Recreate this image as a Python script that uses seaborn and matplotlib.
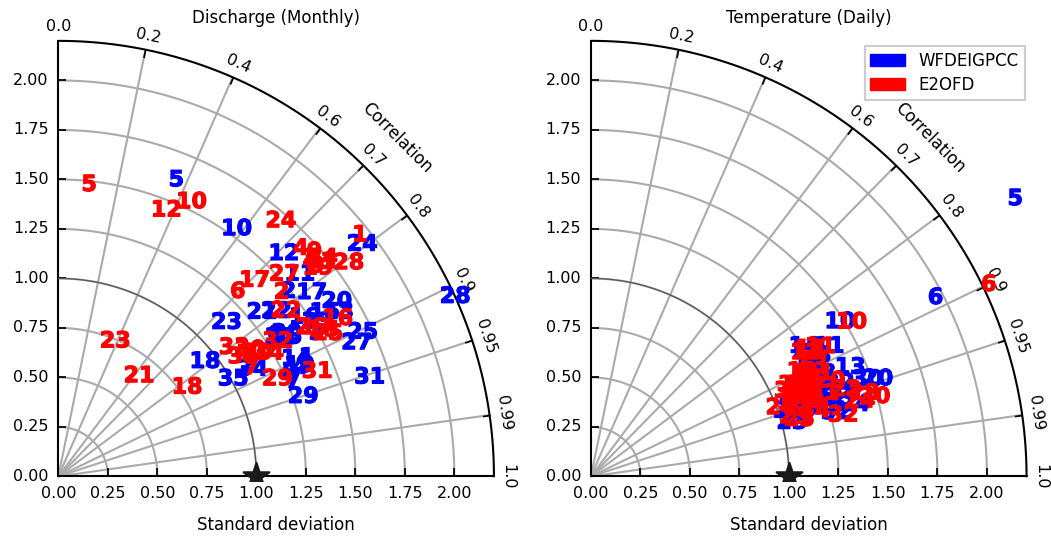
import numpy as np
import matplotlib
matplotlib.use('Agg')
import matplotlib.pyplot as plt
import matplotlib.patches as mpatches
import matplotlib.patheffects as pe
import seaborn as sns
from matplotlib.projections import PolarAxes
import mpl_toolkits.axisartist.floating_axes as fa
import mpl_toolkits.axisartist.grid_finder as gf

stations = list(range(1, 36))

# Discharge (Monthly)
dis_std_wfdei = [1.39, 1.49, 1.49, 1.34, 1.61, 1.31, 1.28, 1.28, 1.37, 1.54, 1.59, 1.60, 1.64, 1.34, 1.58,
                 1.48, 1.58, 0.94, 1.34, 1.66, 1.32, 1.38, 1.15, 1.93, 1.70, 1.35, 1.65, 2.20, 1.30, 1.36,
                 1.65, 1.32, 1.52, 1.12, 1.01]
dis_corr_wfdei = [0.902, 0.780, 0.875, 0.912, 0.370, 0.837, 0.927, 0.914, 0.910, 0.585, 0.767, 0.712, 0.863, 0.897, 0.852,
                  0.840, 0.810, 0.788, 0.909, 0.847, 0.779, 0.798, 0.738, 0.795, 0.904, 0.854, 0.913, 0.911, 0.951, 0.848,
                  0.953, 0.848, 0.859, 0.876, 0.874]
dis_std_e2o = [1.95, 1.46, 1.68, 1.68, 1.48, 1.30, 1.12, 1.68, 1.72, 1.54, 1.71, 1.45, 1.50, 1.73, 1.53,
               1.62, 1.40, 0.79, 1.68, 1.18, 0.65, 1.42, 0.74, 1.71, 1.54, 1.48, 1.53, 1.82, 1.21, 1.16,
               1.41, 1.30, 1.10, 1.23, 1.11]
dis_corr_e2o = [0.781, 0.772, 0.756, 0.729, 0.105, 0.697, 0.872, 0.775, 0.752, 0.437, 0.774, 0.376, 0.866, 0.771, 0.876,
                0.871, 0.708, 0.823, 0.780, 0.850, 0.627, 0.809, 0.388, 0.657, 0.884, 0.862, 0.746, 0.806, 0.914, 0.835,
                0.927, 0.852, 0.807, 0.863, 0.840]

# Temperature (Daily)
tmp_std_wfdei = [1.25, 1.22, 1.15, 1.27, 2.56, 1.96, 1.26, 1.24, 1.28, 1.48, 1.37, 1.24, 1.42, 1.26, 1.19,
                 1.08, 1.26, 1.27, 1.11, 1.53, 1.21, 1.34, 1.05, 1.38, 1.08, 1.05, 1.24, 1.34, 1.16, 1.48,
                 1.23, 1.28, 1.29, 1.26, 1.18]
tmp_corr_wfdei = [0.898, 0.939, 0.938, 0.929, 0.837, 0.888, 0.871, 0.916, 0.939, 0.850, 0.878, 0.885, 0.922, 0.854, 0.948,
                  0.946, 0.866, 0.913, 0.955, 0.947, 0.925, 0.936, 0.966, 0.965, 0.961, 0.950, 0.946, 0.949, 0.954, 0.944,
                  0.957, 0.968, 0.882, 0.953, 0.927]
tmp_std_e2o = [1.32, 1.20, 1.15, 1.21, 1.17, 2.23, 1.22, 1.17, 1.20, 1.53, 1.33, 1.25, 1.25, 1.14, 1.17,
               1.08, 1.28, 1.19, 1.11, 1.30, 1.26, 1.36, 1.07, 1.41, 1.09, 1.02, 1.17, 1.44, 1.19, 1.49,
               1.25, 1.31, 1.12, 1.18, 1.09]
tmp_corr_e2o = [0.876, 0.917, 0.931, 0.932, 0.896, 0.901, 0.879, 0.904, 0.949, 0.861, 0.871, 0.867, 0.894, 0.919, 0.940,
                0.939, 0.865, 0.896, 0.933, 0.929, 0.911, 0.947, 0.960, 0.963, 0.965, 0.941, 0.955, 0.957, 0.915, 0.963,
                0.942, 0.972, 0.912, 0.960, 0.919]

corr_ticks = [0.0, 0.2, 0.4, 0.6, 0.7, 0.8, 0.9, 0.95, 0.99, 1.0]
std_ticks = [0.0, 0.25, 0.5, 0.75, 1.0, 1.25, 1.5, 1.75, 2.0]
std_max = 2.2
ref_std = 1.0

series_names = ['WFDEIGPCC', 'E2OFD']
series_colors = ['blue', 'red']


def taylor_axes(fig, rect, title):
    tr = PolarAxes.PolarTransform(apply_theta_transforms=False)
    tlocs = np.arccos(corr_ticks)
    gl1 = gf.FixedLocator(tlocs)
    tf1 = gf.DictFormatter(dict(zip(tlocs, [str(c) for c in corr_ticks])))
    gl2 = gf.FixedLocator(std_ticks)
    tf2 = gf.DictFormatter({s: f'{s:.2f}' for s in std_ticks})
    gh = fa.GridHelperCurveLinear(tr, extremes=(0, np.pi / 2, 0, std_max),
                                  grid_locator1=gl1, tick_formatter1=tf1,
                                  grid_locator2=gl2, tick_formatter2=tf2)
    ax = fa.FloatingAxes(fig, rect, grid_helper=gh)
    fig.add_axes(ax)

    ax.axis["top"].set_axis_direction("bottom")
    ax.axis["top"].toggle(ticklabels=True, label=True)
    ax.axis["top"].major_ticklabels.set_axis_direction("top")
    ax.axis["top"].label.set_axis_direction("top")
    ax.axis["top"].label.set_text("Correlation")

    ax.axis["left"].set_axis_direction("bottom")
    ax.axis["left"].label.set_text("Standard deviation")

    ax.axis["right"].set_axis_direction("top")
    ax.axis["right"].toggle(ticklabels=True)
    ax.axis["right"].major_ticklabels.set_axis_direction("left")

    ax.axis["bottom"].set_visible(False)

    for side in ["top", "left", "right"]:
        ax.axis[side].major_ticklabels.set_fontsize(11.5)
        ax.axis[side].major_ticklabels.set_pad(7)
        ax.axis[side].label.set_fontsize(12)
        ax.axis[side].line.set_linewidth(1.5)
        ax.axis[side].major_ticks.set_ticksize(5.5)
        ax.axis[side].major_ticks.set_linewidth(1.5)
    ax.axis["left"].label.set_pad(13)
    ax.axis["top"].label.set_pad(9)

    ax.grid(True, color='#aaaaaa', linewidth=1.5, linestyle='-')
    ax.set_title(title, fontsize=12, pad=10)

    aux = ax.get_aux_axes(tr)
    t = np.linspace(0, np.pi / 2, 200)
    aux.plot(t, np.full_like(t, ref_std), color='#555555', lw=0.9, zorder=3)
    sns.scatterplot(x=[0.0], y=[ref_std], marker='*', s=380, color='k',
                    edgecolor='k', ax=aux, zorder=5, legend=False)
    return ax, aux


def draw_labels(aux, stds, corrs, color):
    for n, s, c in zip(stations, stds, corrs):
        aux.text(np.arccos(c), s, str(n), color=color, fontsize=16, fontweight='bold',
                 ha='center', va='center', clip_on=False, zorder=6,
                 path_effects=[pe.withStroke(linewidth=0.8, foreground=color)])


sns.set_theme(style='white', rc={'text.color': 'black', 'axes.labelcolor': 'black',
                                 'xtick.color': 'black', 'ytick.color': 'black',
                                 'axes.edgecolor': 'black'})
plt.rcParams['font.family'] = ['DejaVu Sans']

fig = plt.figure(figsize=(10.51, 5.37), dpi=100)

# floating axes pad their limits by 2 %, so the rect is a little larger than the quarter circle
side = 444.3
w = side / 1051
h = side / 537
b = 56.2 / 537
ax1, aux1 = taylor_axes(fig, [54.0 / 1051, b, w, h], 'Discharge (Monthly)')
draw_labels(aux1, dis_std_wfdei, dis_corr_wfdei, series_colors[0])
draw_labels(aux1, dis_std_e2o, dis_corr_e2o, series_colors[1])

ax2, aux2 = taylor_axes(fig, [586.6 / 1051, b, w, h], 'Temperature (Daily)')
draw_labels(aux2, tmp_std_wfdei, tmp_corr_wfdei, series_colors[0])
draw_labels(aux2, tmp_std_e2o, tmp_corr_e2o, series_colors[1])

handles = [mpatches.Patch(color=c, label=n) for n, c in zip(series_names, series_colors)]
leg = ax2.legend(handles=handles, loc='upper right', bbox_to_anchor=(0.986, 0.978),
                 borderaxespad=0.0, fontsize=12, fancybox=False, framealpha=1,
                 edgecolor='#cccccc', handlelength=2.1, borderpad=0.35, labelspacing=0.35)
leg.get_frame().set_linewidth(1.5)

fig.savefig('out.png', dpi=100)
